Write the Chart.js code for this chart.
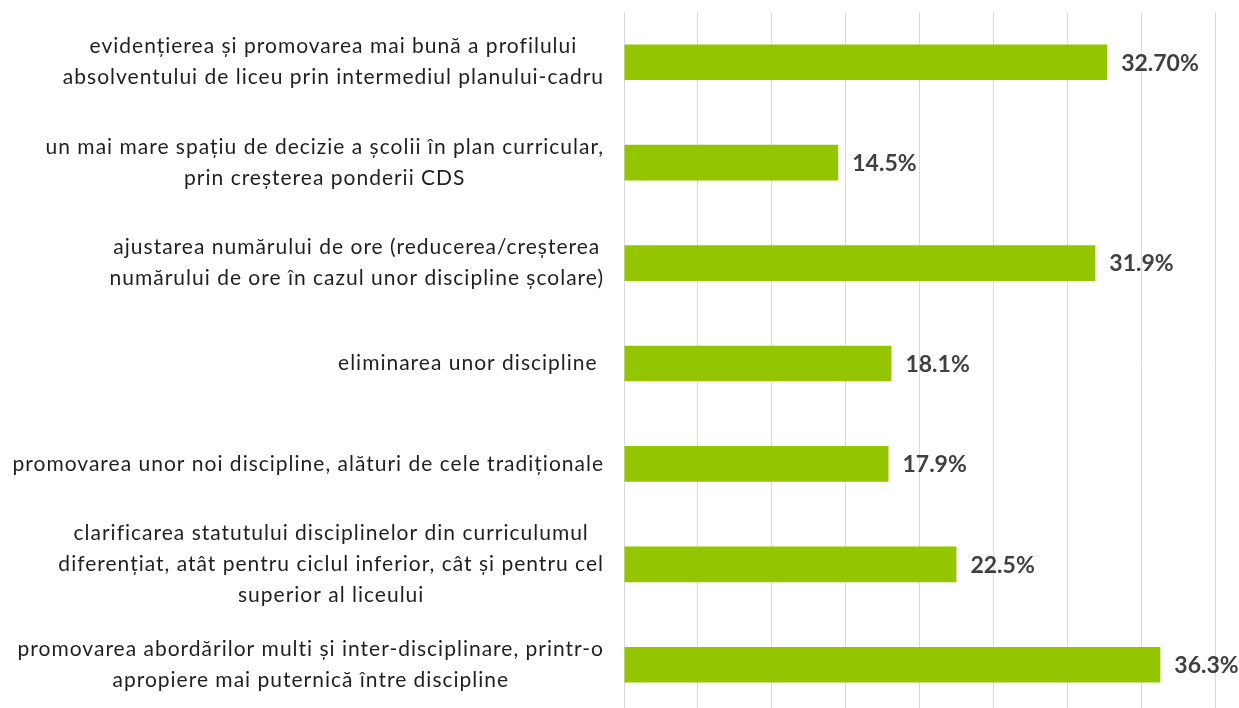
<!DOCTYPE html>
<html>
<head>
<meta charset="utf-8">
<script src="https://cdn.jsdelivr.net/npm/chart.js@4.4.1/dist/chart.umd.min.js"></script>
<style>
  html, body { margin: 0; padding: 0; background: #fff; overflow: hidden; }
  #wrap { width: 1239px; height: 715px; position: relative; }
</style>
</head>
<body>
<div id="wrap"><canvas id="chart"></canvas></div>
<script>
  // categories, one array of lines per label (as wrapped in the picture)
  const categories = [
    ["evidențierea și promovarea mai bună a profilului", "absolventului de liceu prin intermediul planului-cadru"],
    ["un mai mare spațiu de decizie a școlii în plan curricular,", "prin creșterea ponderii CDS"],
    ["ajustarea numărului de ore (reducerea/creșterea", "numărului de ore în cazul unor discipline școlare)"],
    ["eliminarea unor discipline "],
    ["promovarea unor noi discipline, alături de cele tradiționale"],
    ["clarificarea statutului disciplinelor din curriculumul", "diferențiat, atât pentru ciclul inferior, cât și pentru cel", "superior al liceului"],
    ["promovarea abordărilor multi și inter-disciplinare, printr-o", "apropiere mai puternică între discipline"]
  ];
  const values = [32.7, 14.5, 31.9, 18.1, 17.9, 22.5, 36.3];
  const valueLabels = ["32.70%", "14.5%", "31.9%", "18.1%", "17.9%", "22.5%", "36.3%"];
  const xMin = 0;
  const xMax = 40;
  const xStep = 5;

  const barColor = "#94C600";
  const labelFont = "21px Lato";
  const valueFont = "bold 23px Lato";

  // category labels: blocks right-aligned, lines centred within each block
  const categoryLabelPlugin = {
    id: "categoryLabels",
    afterDraw(chart) {
      const ctx = chart.ctx;
      const yScale = chart.scales.y;
      const rightEdge = yScale.right - 20;
      const lineHeight = 31;
      ctx.save();
      ctx.font = labelFont;
      ctx.letterSpacing = "1px";
      ctx.fillStyle = "#1f1f1f";
      ctx.textAlign = "center";
      ctx.textBaseline = "middle";
      categories.forEach((lines, i) => {
        const yMid = yScale.getPixelForTick(i);
        let widest = 0;
        for (let line of lines) {
          widest = Math.max(widest, ctx.measureText(line).width);
        }
        const cx = rightEdge - widest / 2;
        const top = yMid - ((lines.length - 1) * lineHeight) / 2;
        lines.forEach((line, j) => {
          ctx.fillText(line, cx, top + j * lineHeight);
        });
      });
      ctx.restore();
    }
  };

  // value labels just past the end of each bar
  const valueLabelPlugin = {
    id: "valueLabels",
    afterDatasetsDraw(chart) {
      const ctx = chart.ctx;
      const meta = chart.getDatasetMeta(0);
      ctx.save();
      ctx.font = valueFont;
      ctx.fillStyle = "#404040";
      ctx.textAlign = "left";
      ctx.textBaseline = "middle";
      meta.data.forEach((bar, i) => {
        ctx.fillText(valueLabels[i], bar.x + 14, bar.y + 1);
      });
      ctx.restore();
    }
  };

  new Chart(document.getElementById("chart"), {
    type: "bar",
    data: {
      labels: categories,
      datasets: [
        {
          data: values,
          backgroundColor: barColor,
          borderWidth: 0,
          categoryPercentage: 1,
          barPercentage: 0.355
        }
      ]
    },
    options: {
      indexAxis: "y",
      responsive: true,
      maintainAspectRatio: false,
      animation: false,
      layout: { padding: { top: 12, right: 24, bottom: 0, left: 0 } },
      plugins: {
        legend: { display: false },
        tooltip: { enabled: false }
      },
      scales: {
        x: {
          min: xMin,
          max: xMax,
          ticks: { display: false, stepSize: xStep },
          grid: { color: "#d9d9d9", lineWidth: 1, drawTicks: false },
          border: { display: false },
          afterFit(scale) { scale.height = 0; }
        },
        y: {
          ticks: { display: false },
          grid: { display: false },
          border: { display: false },
          afterFit(scale) { scale.width = 624; }
        }
      }
    },
    plugins: [categoryLabelPlugin, valueLabelPlugin]
  });
</script>
</body>
</html>
